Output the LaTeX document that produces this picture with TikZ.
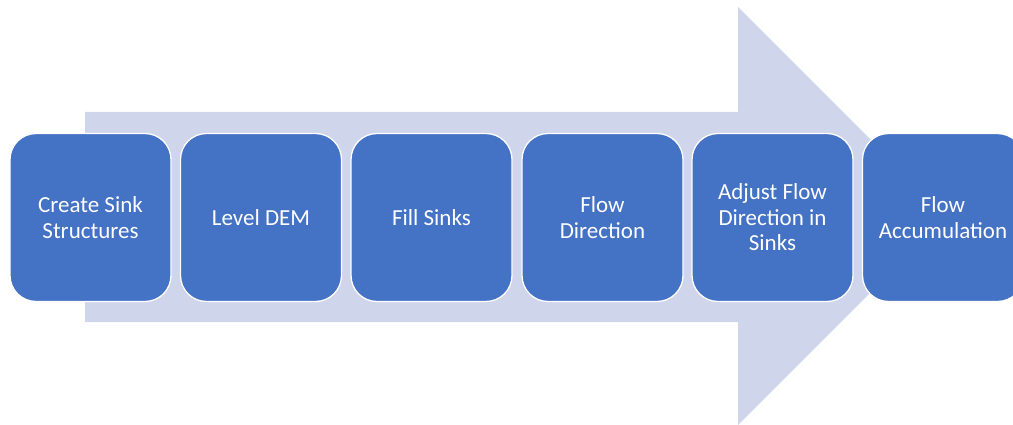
\documentclass[tikz,border=0pt]{standalone}
\usepackage{fontspec}
\setmainfont{Carlito}
\definecolor{boxblue}{HTML}{4472C4}
\definecolor{arrowfill}{HTML}{CFD5EA}
\begin{document}
\begin{tikzpicture}[x=1pt,y=-1pt,
  stepbox/.style={rectangle, rounded corners=26pt, fill=boxblue, draw=white, line width=1.3pt,
    minimum width=161pt, minimum height=168pt, text=white, align=center,
    font=\fontsize{23}{25.5}\selectfont, inner sep=0pt}]
\useasboundingbox (0,0) rectangle (1013,425);
\clip (0,0) rectangle (1013,425);
\fill[arrowfill] (85,112) -- (738,112) -- (738,7) -- (947,216) -- (738,425) -- (738,322) -- (85,322) -- cycle;
\node[stepbox] (s1) at (90.5,217.5) {Create Sink\\Structures};
\node[stepbox] (s2) at (261,217.5) {Level DEM};
\node[stepbox] (s3) at (431.5,217.5) {Fill Sinks};
\node[stepbox] (s4) at (602.5,217.5) {Flow\\Direction};
\node[stepbox] (s5) at (772.5,217.5) {Adjust Flow\\Direction in\\Sinks};
\node[stepbox] (s6) at (943,217.5) {Flow\\Accumulation};
\end{tikzpicture}
\end{document}
